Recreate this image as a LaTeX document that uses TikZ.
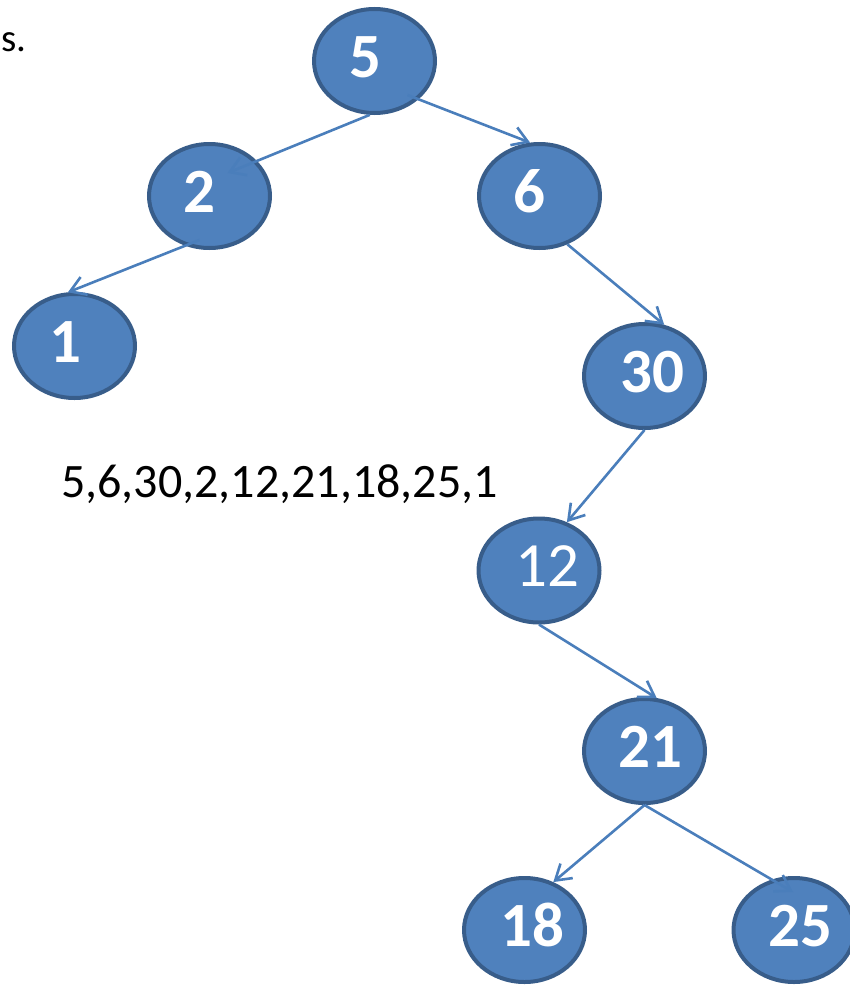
\documentclass[tikz,border=0pt]{standalone}
\usepackage{fontspec}
\setmainfont{Carlito}
\usetikzlibrary{arrows.meta,calc,shapes.geometric}
\definecolor{nodefill}{HTML}{4F81BD}
\definecolor{nodeline}{HTML}{385D8A}
\definecolor{edgeblue}{HTML}{4A7EBB}
% shift a label sideways inside its node
\newcommand{\offtext}[2]{\hspace*{#1}#2}
\tikzset{
  vertex/.style={ellipse, fill=nodefill, draw=nodeline, line width=4pt,
    minimum width=121pt, minimum height=104pt, inner sep=0pt, text=white,
    font=\fontsize{63}{63}\selectfont\bfseries, text height=32pt, text depth=0pt},
  edge/.style={edgeblue, line width=2.6pt, -{Straight Barb[length=15pt,width=19pt]}}
}
\begin{document}
\begin{tikzpicture}[x=1pt, y=-1pt]
    \clip (0, 0) rectangle (850, 985);
    % text
    \node[anchor=base east, inner sep=0pt, font=\fontsize{39}{39}\selectfont] (cut) at (27, 51) {s.};
    \node[anchor=base west, inner sep=0pt, font=\fontsize{48}{48}\selectfont] (seq) at (61, 497) {5,6,30,2,12,21,18,25,1};
    % nodes
    \node[vertex] (n5) at (374.5, 61) {\offtext{-18pt}{5}};
    \node[vertex] (n2) at (209.5, 196) {\offtext{-21pt}{2}};
    \node[vertex] (n6) at (539.5, 196) {\offtext{-21pt}{6}};
    \node[vertex] (n1) at (74.5, 346) {\offtext{-18pt}{1}};
    \node[vertex] (n30) at (644.5, 376) {\offtext{16pt}{30}};
    \node[vertex] (n12) at (539, 570.5) {\mdseries\offtext{17pt}{12}};
    \node[vertex] (n21) at (644.5, 751) {\offtext{11pt}{21}};
    \node[vertex] (n18) at (524.5, 930) {\offtext{15pt}{18}};
    \node[vertex] (n25) at (794, 930) {\offtext{12pt}{25}};
    % edges
    \draw[edge] (n5.-95) -- ($(n2.center)+(18,-23)$);
    \draw[edge] ($(n5.center)+(33,34)$) -- (n6.100);
    \draw[edge] ($(n2.center)+(-10,44)$) -- (n1.97);
    \draw[edge] (n6.-60) -- (n30.69);
    \draw[edge] (n30.south) -- (n12.60);
    \draw[edge] (n12.south) -- (n21.77);
    \draw[edge] (n21.south) -- (n18.59);
    \draw[edge] (n21.south) -- ($(n25.center)+(-1,-38)$);
\end{tikzpicture}
\end{document}
